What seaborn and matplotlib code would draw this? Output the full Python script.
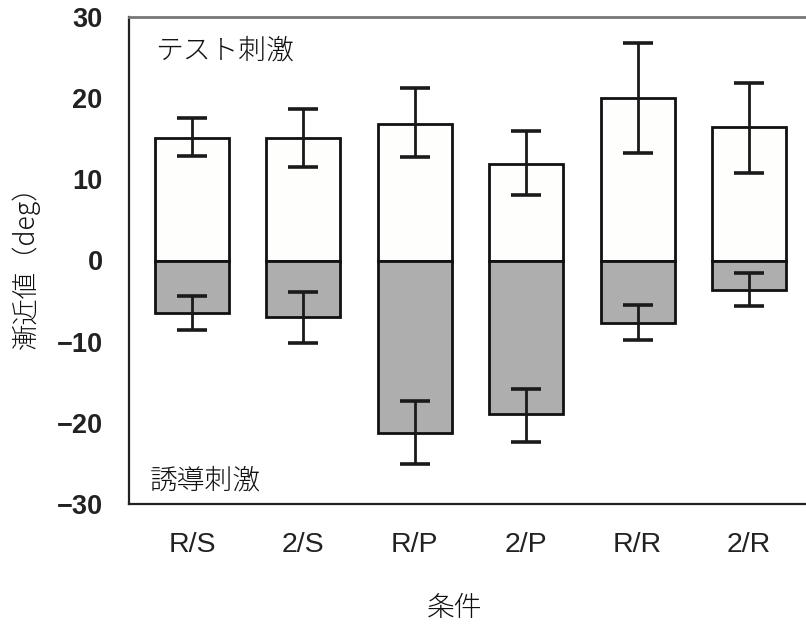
import matplotlib
matplotlib.use("Agg")
import matplotlib.pyplot as plt
import seaborn as sns
import numpy as np

# ---- data ----
conditions = ["R/S", "2/S", "R/P", "2/P", "R/R", "2/R"]
test_values = [15.1, 15.1, 16.8, 11.9, 20.0, 16.5]
test_err_low = [12.9, 11.5, 12.8, 8.1, 13.3, 10.8]
test_err_high = [17.5, 18.7, 21.2, 16.0, 26.8, 21.9]
induce_values = [-6.5, -7.0, -21.2, -18.9, -7.7, -3.6]
induce_err_low = [-8.6, -10.2, -25.1, -22.3, -9.8, -5.6]
induce_err_high = [-4.4, -3.9, -17.3, -15.8, -5.5, -1.6]
y_ticks = [-30, -20, -10, 0, 10, 20, 30]

sns.set_theme(style="white")
plt.rcParams['font.family'] = ['Liberation Sans', 'Noto Sans CJK JP']
plt.rcParams['axes.unicode_minus'] = True

fig = plt.figure(figsize=(8.06, 6.27), dpi=100)
ax = fig.add_axes([129/806, 123/627, (812-129)/806, (504-17)/627])

sns.barplot(x=conditions, y=test_values, color="#fefefc", edgecolor="#111111",
            linewidth=2.0, width=0.665, saturation=1, ax=ax, zorder=2)
sns.barplot(x=conditions, y=induce_values, color="#aeaeae", edgecolor="#111111",
            linewidth=2.0, width=0.665, saturation=1, ax=ax, zorder=2)

pos = np.arange(len(conditions))
tv = np.array(test_values)
iv = np.array(induce_values)
ax.errorbar(pos, tv, yerr=[tv - np.array(test_err_low), np.array(test_err_high) - tv],
            fmt='none', ecolor="#1a1a1a", elinewidth=2.0, capsize=10.8, capthick=2.6, zorder=3)
ax.errorbar(pos, iv, yerr=[iv - np.array(induce_err_low), np.array(induce_err_high) - iv],
            fmt='none', ecolor="#1a1a1a", elinewidth=2.0, capsize=10.8, capthick=2.6, zorder=3)

ax.set_xlim(-0.565, 5.565)
ax.set_ylim(-30, 30)
ax.set_yticks(y_ticks)
ax.tick_params(axis='y', direction='in', length=11, width=1.5, color="#222222",
               pad=19, labelsize=19.5, labelcolor="#222222")
ax.tick_params(axis='x', length=0, pad=20, labelsize=20.5, labelcolor="#222222")
for lab in ax.get_yticklabels():
    lab.set_fontweight('bold')

for side in ['left', 'bottom', 'top']:
    ax.spines[side].set_visible(True)
    ax.spines[side].set_linewidth(1.6)
    ax.spines[side].set_color("#222222")
ax.spines['top'].set_color("#777777")
ax.spines['top'].set_linewidth(2.0)
ax.spines['right'].set_visible(False)

jp = ['Noto Sans CJK JP']
ax.set_xlabel("条件", family=jp, fontsize=20, fontweight='light', color="#111111")
ax.xaxis.set_label_coords((455 - 129) / (812 - 129), -0.185)
ax.set_ylabel("漸近値（deg）", family=jp, fontsize=19, fontweight='light', labelpad=12, color="#111111")

ax.text(155/806, 1 - 50/627, "テスト刺激", transform=fig.transFigure, family=jp,
        fontsize=20, fontweight='light', ha='left', va='center', color="#111111")
ax.text(150/806, 1 - 480/627, "誘導刺激", transform=fig.transFigure, family=jp,
        fontsize=20, fontweight='light', ha='left', va='center', color="#111111")

fig.savefig("out.png", dpi=100)
